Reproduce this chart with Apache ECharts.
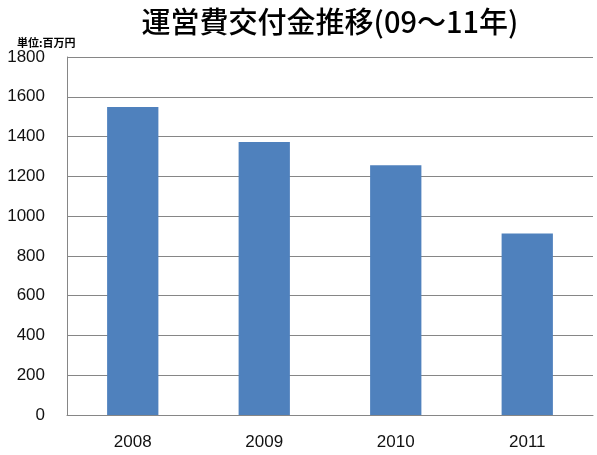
<!DOCTYPE html>
<html>
<head>
<meta charset="utf-8">
<script src="https://cdn.jsdelivr.net/npm/echarts@6/dist/echarts.min.js"></script>
<style>
  html, body { margin: 0; padding: 0; background: #fff; }
  #chart { width: 597px; height: 455px; }
</style>
</head>
<body>
<div id="chart"></div>
<script>
// 運営費交付金 (単位: 百万円)
const years = ['2008', '2009', '2010', '2011']
const grants = [1548, 1372, 1256, 913]

const chart = echarts.init(document.getElementById('chart'))

chart.setOption({
  animation: false,
  title: [{
    text: '運営費交付金推移(09～11年)',
    left: 325,
    top: 2,
    textAlign: 'center',
    textStyle: {
      fontFamily: 'Noto Sans CJK JP',
      fontSize: 29,
      fontWeight: 500,
      color: '#000'
    }
  }, {
    text: '単位:百万円',
    left: 12,
    top: 32,
    textStyle: {
      fontFamily: 'Noto Sans CJK JP',
      fontSize: 11,
      fontWeight: 'bold',
      color: '#000'
    }
  }],
  grid: {
    left: 67,
    right: 4,
    top: 57,
    bottom: 40
  },
  xAxis: {
    type: 'category',
    data: years,
    axisLine: { lineStyle: { color: '#868686', width: 1 } },
    axisTick: { show: false },
    axisLabel: {
      margin: 19,
      fontFamily: 'Liberation Sans',
      fontSize: 17,
      color: '#111'
    }
  },
  yAxis: {
    type: 'value',
    min: 0,
    max: 1800,
    interval: 200,
    axisLine: { show: true, lineStyle: { color: '#868686', width: 1 } },
    axisTick: { show: false },
    splitLine: { lineStyle: { color: '#868686', width: 1 } },
    axisLabel: {
      margin: 22,
      fontFamily: 'Liberation Sans',
      fontSize: 17,
      color: '#111',
      formatter: v => String(v),
      padding: [6, 0, 0, 0]
    }
  },
  series: [{
    name: '運営費交付金',
    type: 'bar',
    data: grants,
    barWidth: '39%',
    itemStyle: { color: '#4f81bd' }
  }]
})
</script>
</body>
</html>
